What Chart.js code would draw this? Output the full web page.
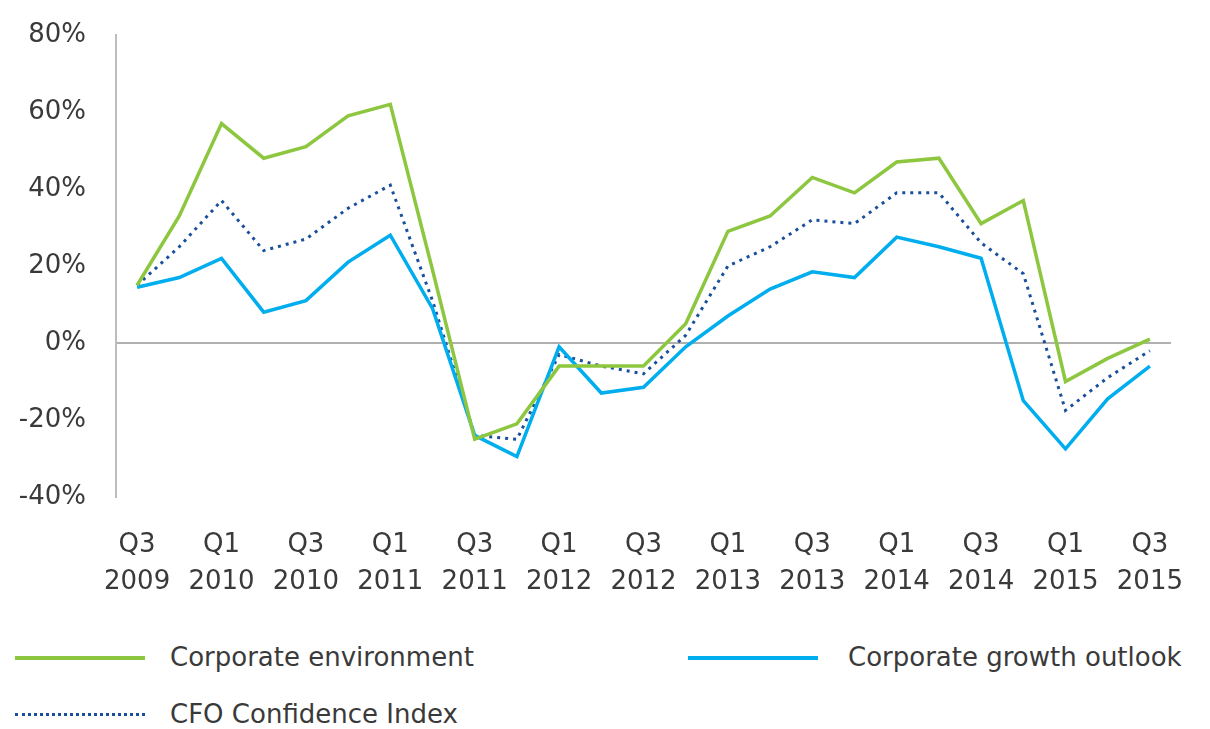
<!DOCTYPE html>
<html>
<head>
<meta charset="utf-8">
<script src="https://cdn.jsdelivr.net/npm/chart.js@4/dist/chart.umd.min.js"></script>
<style>
  body { margin: 0; background: #fff; font-family: "DejaVu Sans", sans-serif; color: #3a3a3a; }
  #wrap { position: relative; width: 1210px; height: 729px; }
  #box { position: absolute; left: 0; top: 0; width: 1210px; height: 600px; }
  .key { position: absolute; font-size: 26px; line-height: 30px; white-space: nowrap; }
  .key span { position: absolute; top: -16px; }
  .key i { position: absolute; left: 0; top: -2px; width: 130px; height: 0; border-top: 4px solid; }
</style>
</head>
<body>
<div id="wrap">
  <div id="box"><canvas id="chart"></canvas></div>
  <div class="key" style="left:15px; top:658px;"><i style="border-color:#8dc63f"></i><span style="left:155px">Corporate environment</span></div>
  <div class="key" style="left:688px; top:658px;"><i style="border-color:#00aeef"></i><span style="left:160px">Corporate growth outlook</span></div>
  <div class="key" style="left:15px; top:715px;"><i style="border-top:3px dotted #1a4f9c"></i><span style="left:155px">CFO Confidence Index</span></div>
</div>
<script>
const quarters = [
  'Q3 2009', 'Q4 2009', 'Q1 2010', 'Q2 2010', 'Q3 2010', 'Q4 2010', 'Q1 2011',
  'Q2 2011', 'Q3 2011', 'Q4 2011', 'Q1 2012', 'Q2 2012', 'Q3 2012', 'Q4 2012',
  'Q1 2013', 'Q2 2013', 'Q3 2013', 'Q4 2013', 'Q1 2014', 'Q2 2014', 'Q3 2014',
  'Q4 2014', 'Q1 2015', 'Q2 2015', 'Q3 2015',
];

const corporateEnvironment = [15, 33, 57, 48, 51, 59, 62, 19, -25, -21, -6, -6, -6, 5, 29, 33, 43, 39, 47, 48, 31, 37, -10, -4, 1];
const growthOutlook = [14.5, 17, 22, 8, 11, 21, 28, 9, -24, -29.5, -1, -13, -11.5, -1, 7, 14, 18.5, 17, 27.5, 25, 22, -15, -27.5, -14.5, -6];
const cfoConfidence = [15, 25, 37, 24, 27, 35, 41, 11, -24, -25, -3, -6, -8, 2, 20, 25, 32, 31, 39, 39, 26, 18, -17.5, -9, -2];

const yTicks = [-40, -20, 0, 20, 40, 60, 80];

const tickFont = { family: '"DejaVu Sans", sans-serif', size: 26, lineHeight: 1.45 };

new Chart(document.getElementById('chart'), {
  type: 'line',
  data: {
    labels: quarters,
    datasets: [
      {
        label: 'Corporate environment',
        data: corporateEnvironment,
        borderColor: '#8dc63f',
        borderWidth: 3.5,
      },
      {
        label: 'Corporate growth outlook',
        data: growthOutlook,
        borderColor: '#00aeef',
        borderWidth: 3.5,
      },
      {
        label: 'CFO Confidence Index',
        data: cfoConfidence,
        borderColor: '#1a4f9c',
        borderWidth: 3,
        borderDash: [3, 5],
      },
    ],
  },
  options: {
    responsive: true,
    maintainAspectRatio: false,
    animation: false,
    layout: { padding: { top: 35, right: 39, left: 0, bottom: 0 } },
    elements: { point: { radius: 0 }, line: { tension: 0 } },
    plugins: { legend: { display: false }, tooltip: { enabled: false } },
    scales: {
      x: {
        offset: true,
        grid: { display: false },
        border: { display: false },
        ticks: {
          autoSkip: false,
          maxRotation: 0,
          padding: 21,
          color: '#3a3a3a',
          font: tickFont,
          callback: (val, idx) => (idx % 2 === 0 ? quarters[idx].split(' ') : ''),
        },
        afterFit: (s) => { s.height = 103; },
      },
      y: {
        min: -40,
        max: 80,
        afterBuildTicks: (s) => { s.ticks = yTicks.map(v => ({ value: v })); },
        border: { display: true, color: '#bdbdbd', width: 2 },
        grid: {
          drawTicks: false,
          color: (c) => (c.tick && c.tick.value === 0 ? '#b0b0b0' : 'rgba(0,0,0,0)'),
          lineWidth: 2,
        },
        ticks: {
          padding: 30,
          color: '#3a3a3a',
          font: tickFont,
          callback: (v) => v + '%',
        },
        afterFit: (s) => {
          s.width = 116;
          s.paddingTop = 0;
          s.paddingBottom = 0;
        },
      },
    },
  },
});
</script>
</body>
</html>
